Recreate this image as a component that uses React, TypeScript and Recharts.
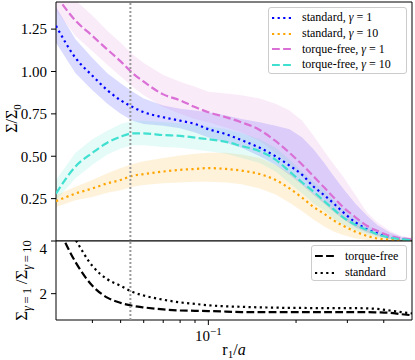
import React from 'react'
import { ComposedChart, Line, Area, XAxis, YAxis, ReferenceLine, ReferenceArea } from 'recharts'

const FONT = "'Liberation Serif', 'DejaVu Serif', serif"

// r1/a sample points
const r1 = [0.03, 0.035, 0.04, 0.045, 0.05, 0.055, 0.06, 0.07, 0.08, 0.09, 0.1, 0.115, 0.13, 0.15, 0.17, 0.19, 0.21, 0.23, 0.25, 0.27, 0.29, 0.32, 0.35, 0.38, 0.42, 0.46, 0.5]

// standard, gamma = 1
const stdG1 = [1.27, 1.08, 0.975, 0.89, 0.83, 0.79, 0.76, 0.73, 0.71, 0.69, 0.66, 0.63, 0.595, 0.55, 0.5, 0.445, 0.39, 0.32, 0.27, 0.22, 0.17, 0.11, 0.07, 0.045, 0.02, 0.01, 0.005]
const stdG1Lo = [1.17, 0.99, 0.89, 0.81, 0.75, 0.71, 0.69, 0.68, 0.665, 0.64, 0.61, 0.58, 0.55, 0.5, 0.45, 0.39, 0.33, 0.27, 0.22, 0.17, 0.13, 0.08, 0.05, 0.03, 0.012, 0.005, 0.002]
const stdG1Hi = [1.38, 1.19, 1.08, 0.99, 0.93, 0.88, 0.84, 0.8, 0.78, 0.77, 0.76, 0.74, 0.72, 0.7, 0.68, 0.66, 0.61, 0.54, 0.46, 0.38, 0.31, 0.22, 0.15, 0.095, 0.05, 0.025, 0.015]

// standard, gamma = 10
const stdG10 = [0.235, 0.28, 0.31, 0.34, 0.36, 0.385, 0.395, 0.41, 0.42, 0.425, 0.43, 0.425, 0.415, 0.395, 0.36, 0.31, 0.255, 0.2, 0.16, 0.12, 0.09, 0.055, 0.03, 0.015, 0.008, 0.004, 0.003]
const stdG10Lo = [0.2, 0.24, 0.26, 0.285, 0.3, 0.32, 0.33, 0.34, 0.345, 0.35, 0.35, 0.345, 0.335, 0.31, 0.275, 0.225, 0.175, 0.125, 0.085, 0.055, 0.035, 0.015, 0.006, 0.002, 0, 0, 0]
const stdG10Hi = [0.27, 0.32, 0.36, 0.4, 0.43, 0.455, 0.47, 0.49, 0.505, 0.515, 0.52, 0.52, 0.51, 0.49, 0.45, 0.4, 0.34, 0.28, 0.235, 0.19, 0.15, 0.1, 0.065, 0.04, 0.02, 0.01, 0.006]

// torque-free, gamma = 1
const tfG1 = [1.45, 1.3, 1.21, 1.13, 1.06, 0.99, 0.94, 0.865, 0.83, 0.79, 0.76, 0.73, 0.7, 0.655, 0.59, 0.52, 0.45, 0.38, 0.315, 0.255, 0.2, 0.14, 0.09, 0.06, 0.03, 0.015, 0.01]
const tfG1Lo = [1.36, 1.21, 1.12, 1.04, 0.97, 0.91, 0.86, 0.79, 0.75, 0.72, 0.7, 0.67, 0.64, 0.59, 0.52, 0.45, 0.38, 0.31, 0.25, 0.19, 0.14, 0.09, 0.06, 0.035, 0.015, 0.007, 0.004]
const tfG1Hi = [1.55, 1.42, 1.33, 1.24, 1.17, 1.1, 1.05, 0.98, 0.94, 0.91, 0.88, 0.87, 0.86, 0.84, 0.81, 0.77, 0.71, 0.62, 0.53, 0.45, 0.38, 0.27, 0.17, 0.11, 0.06, 0.03, 0.02]

// torque-free, gamma = 10
const tfG10 = [0.28, 0.44, 0.52, 0.58, 0.615, 0.635, 0.635, 0.625, 0.62, 0.61, 0.6, 0.585, 0.56, 0.53, 0.48, 0.41, 0.345, 0.29, 0.235, 0.185, 0.14, 0.095, 0.065, 0.04, 0.02, 0.01, 0.005]
const tfG10Lo = [0.24, 0.37, 0.45, 0.51, 0.545, 0.565, 0.565, 0.555, 0.55, 0.54, 0.53, 0.515, 0.49, 0.46, 0.41, 0.34, 0.28, 0.22, 0.18, 0.13, 0.095, 0.06, 0.04, 0.02, 0.01, 0.004, 0.002]
const tfG10Hi = [0.36, 0.52, 0.6, 0.65, 0.69, 0.71, 0.71, 0.7, 0.695, 0.685, 0.675, 0.66, 0.635, 0.6, 0.55, 0.48, 0.41, 0.35, 0.3, 0.24, 0.19, 0.14, 0.095, 0.06, 0.035, 0.018, 0.01]

// ratio gamma=1 / gamma=10
const ratioTf = [4.7, 3.2, 2.3, 1.85, 1.65, 1.54, 1.48, 1.4, 1.36, 1.35, 1.34, 1.32, 1.3, 1.3, 1.3, 1.3, 1.3, 1.3, 1.3, 1.3, 1.3, 1.3, 1.3, 1.29, 1.27, 1.22, 1.18]
const ratioStd = [5.3, 4.05, 3.05, 2.55, 2.3, 2.06, 1.93, 1.77, 1.67, 1.61, 1.56, 1.52, 1.5, 1.48, 1.47, 1.46, 1.46, 1.45, 1.45, 1.45, 1.45, 1.45, 1.44, 1.42, 1.36, 1.3, 1.25]

const xDomain = [0.03, 0.5]
const xTicks = [0.04, 0.05, 0.06, 0.07, 0.08, 0.09, 0.1, 0.2, 0.3, 0.4]
const markerX = 0.054
const topDomain = [0, 1.41]
const topTicks = [0.25, 0.5, 0.75, 1.0, 1.25]
const botDomain = [1, 4]
const botTicks = [2, 4]

const rows = r1.map((x, i) => ({
  x,
  stdG1: stdG1[i], stdG1Band: [stdG1Lo[i], stdG1Hi[i]],
  stdG10: stdG10[i], stdG10Band: [stdG10Lo[i], stdG10Hi[i]],
  tfG1: tfG1[i], tfG1Band: [tfG1Lo[i], tfG1Hi[i]],
  tfG10: tfG10[i], tfG10Band: [tfG10Lo[i], tfG10Hi[i]],
  ratioTf: ratioTf[i], ratioStd: ratioStd[i],
}))

const DOT = '2.2 3.4'
const DASH = '7.8 3.3'

const topSeries = [
  { key: 'stdG1', label: 'standard', gamma: '1', color: '#0000ff', dash: DOT },
  { key: 'stdG10', label: 'standard', gamma: '10', color: '#ffa500', dash: DOT },
  { key: 'tfG1', label: 'torque-free', gamma: '1', color: '#da70d6', dash: DASH },
  { key: 'tfG10', label: 'torque-free', gamma: '10', color: '#40e0d0', dash: DASH },
]
const botSeries = [
  { key: 'ratioTf', label: 'torque-free', dash: DASH },
  { key: 'ratioStd', label: 'standard', dash: DOT },
]

function LogTick({ x, y, payload }: any) {
  const major = payload.value === 0.1
  return (
    <g>
      <line x1={x} x2={x} y1={y} y2={y + (major ? 5 : 3)} stroke="#000" strokeWidth={1} />
      {major && (
        <text x={x} y={y + 21} textAnchor="middle" fontSize={15} fontFamily={FONT} fill="#000">
          10<tspan dy={-6} fontSize={11}>−1</tspan>
        </text>
      )}
    </g>
  )
}

function XTitle({ viewBox }: any) {
  const cx = viewBox ? viewBox.x + viewBox.width / 2 : 234
  const y = viewBox ? viewBox.y + 35 : 355
  return (
    <text x={cx} y={y} textAnchor="middle" fontSize={16} fontFamily={FONT} fill="#000">
      r<tspan dy={3} fontSize={11}>1</tspan><tspan dy={-3}>/</tspan><tspan fontStyle="italic">a</tspan>
    </text>
  )
}

function TopYTitle({ viewBox }: any) {
  const cy = viewBox ? viewBox.y + viewBox.height / 2 - 3 : 118
  return (
    <text transform={`translate(17, ${cy}) rotate(-90)`} textAnchor="middle" fontSize={16} fontFamily={FONT} fill="#000">
      Σ/Σ<tspan dy={4} fontSize={11}>0</tspan>
    </text>
  )
}

function BotYTitle({ viewBox }: any) {
  const cy = viewBox ? viewBox.y + viewBox.height / 2 : 40
  return (
    <text transform={`translate(27, ${cy}) rotate(-90)`} textAnchor="middle" fontSize={17} fontFamily={FONT} fill="#000">
      Σ<tspan dy={4} fontSize={12.5}><tspan fontStyle="italic">γ</tspan>{'\u2009=\u20091'}</tspan>
      <tspan dy={-4}>{'\u2009/Σ'}</tspan>
      <tspan dy={4} fontSize={12.5}><tspan fontStyle="italic">γ</tspan>{'\u2009=\u200910'}</tspan>
    </text>
  )
}

const legendBox: React.CSSProperties = {
  position: 'absolute',
  border: '1px solid #cccccc',
  borderRadius: 3,
  background: 'rgba(255,255,255,0.8)',
  boxSizing: 'border-box',
  fontFamily: FONT,
  fontSize: 12,
  color: '#000',
  padding: '2px 0 0 3px',
}

function LegendRow({ color, dash, children, h }: any) {
  return (
    <div style={{ display: 'flex', alignItems: 'center', height: h, whiteSpace: 'nowrap' }}>
      <svg width={20} height={4} style={{ marginRight: 10 }}>
        <line x1={0} x2={20} y1={2} y2={2} stroke={color} strokeWidth={2} strokeDasharray={dash} />
      </svg>
      <span>{children}</span>
    </div>
  )
}

export default function App() {
  return (
    <div style={{ position: 'absolute', left: 0, top: 0, width: 415, height: 360, background: '#fff' }}>
      <div style={{ position: 'absolute', left: 0, top: 0 }}>
        <ComposedChart width={415} height={241} data={rows} margin={{ top: 2, right: 3, left: 0, bottom: 0 }}>
          <XAxis dataKey="x" type="number" scale="log" domain={xDomain} allowDataOverflow hide />
          <YAxis
            type="number"
            domain={topDomain}
            ticks={topTicks}
            allowDataOverflow
            width={56}
            axisLine={false}
            tickSize={5}
            tickMargin={4}
            tickLine={{ stroke: '#000' }}
            tickFormatter={(v: number) => v.toFixed(2)}
            tick={{ fontSize: 15, fill: '#000', fontFamily: FONT }}
            label={<TopYTitle />}
          />
          {topSeries.map((s) => (
            <Area
              key={s.key + 'Band'}
              dataKey={s.key + 'Band'}
              type="linear"
              stroke="none"
              fill={s.color}
              fillOpacity={0.14}
              isAnimationActive={false}
              legendType="none"
              activeDot={false}
            />
          ))}
          {topSeries.map((s) => (
            <Line
              key={s.key}
              dataKey={s.key}
              type="monotone"
              stroke={s.color}
              strokeWidth={2.2}
              strokeDasharray={s.dash}
              dot={false}
              activeDot={false}
              isAnimationActive={false}
            />
          ))}
          <ReferenceLine x={markerX} stroke="#999999" strokeWidth={2} strokeDasharray="2 2" />
          <ReferenceArea x1={xDomain[0]} x2={xDomain[1]} y1={topDomain[0]} y2={topDomain[1]} fill="none" stroke="#000" strokeWidth={1} />
        </ComposedChart>
      </div>
      <div style={{ position: 'absolute', left: 0, top: 240 }}>
        <ComposedChart width={415} height={120} data={rows} margin={{ top: 1, right: 3, left: 0, bottom: 0 }}>
          <XAxis
            dataKey="x"
            type="number"
            scale="log"
            domain={xDomain}
            ticks={xTicks}
            allowDataOverflow
            height={40}
            axisLine={false}
            tickLine={false}
            tickSize={0}
            tickMargin={0}
            interval={0}
            tick={<LogTick />}
            label={<XTitle />}
          />
          <YAxis
            type="number"
            domain={botDomain}
            ticks={botTicks}
            allowDataOverflow
            width={56}
            axisLine={false}
            tickSize={5}
            tickMargin={4}
            tickLine={{ stroke: '#000' }}
            tick={{ fontSize: 15, fill: '#000', fontFamily: FONT }}
            label={<BotYTitle />}
          />
          {botSeries.map((s) => (
            <Line
              key={s.key}
              dataKey={s.key}
              type="monotone"
              stroke="#000"
              strokeWidth={2.2}
              strokeDasharray={s.dash}
              dot={false}
              activeDot={false}
              isAnimationActive={false}
            />
          ))}
          <ReferenceLine x={markerX} stroke="#999999" strokeWidth={2} strokeDasharray="2 2" />
          <ReferenceArea x1={xDomain[0]} x2={xDomain[1]} y1={botDomain[0]} y2={botDomain[1]} fill="none" stroke="#000" strokeWidth={1} />
        </ComposedChart>
      </div>
      <div style={{ ...legendBox, left: 268, top: 7, width: 139, height: 67 }}>
        {topSeries.map((s) => (
          <LegendRow key={s.key} color={s.color} dash={s.dash} h={15.7}>
            {s.label}, <i>γ</i> = {s.gamma}
          </LegendRow>
        ))}
      </div>
      <div style={{ ...legendBox, left: 311, top: 245, width: 96, height: 36 }}>
        {botSeries.map((s) => (
          <LegendRow key={s.key} color="#000" dash={s.dash} h={16.5}>
            {s.label}
          </LegendRow>
        ))}
      </div>
    </div>
  )
}
